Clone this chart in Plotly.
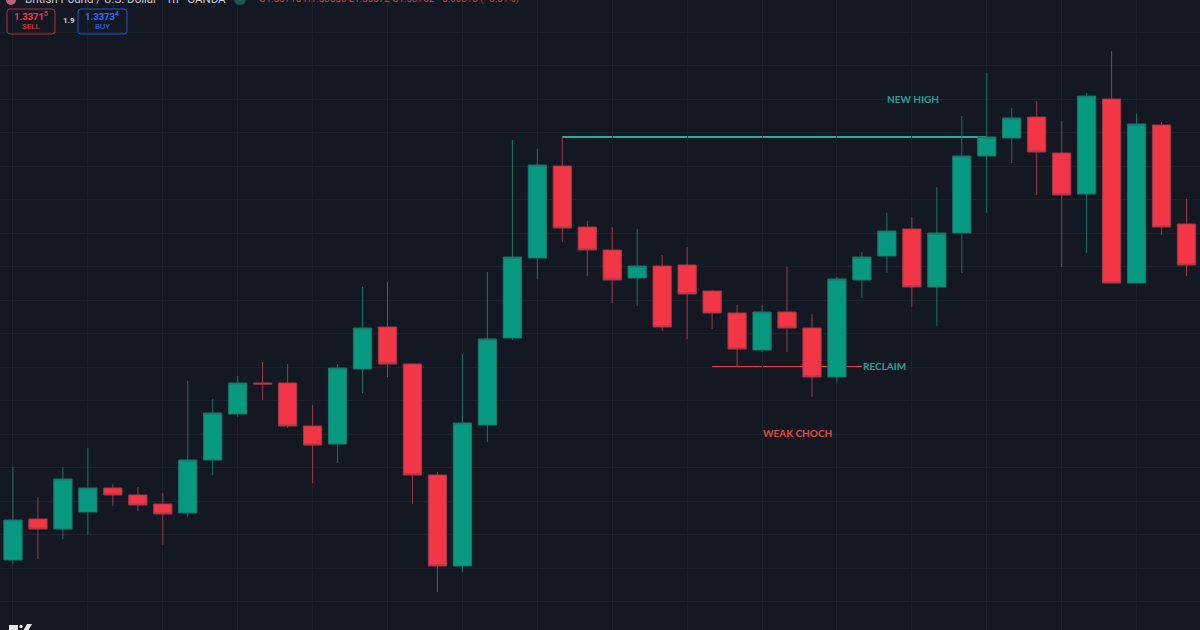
import plotly.graph_objects as go

# candle values, oldest first
highs = [1.33533, 1.33503, 1.33533, 1.33552, 1.33516, 1.33513, 1.33507, 1.33619, 1.33601, 1.33624, 1.33638, 1.33636,
         1.33595, 1.33636, 1.33713, 1.33718, 1.33636, 1.33528, 1.33646, 1.33728, 1.33860, 1.33851, 1.33863, 1.33779,
         1.33773, 1.33771, 1.33745, 1.33753, 1.33710, 1.33695, 1.33695, 1.33733, 1.33686, 1.33723, 1.33748, 1.33787,
         1.33783, 1.33813, 1.33884, 1.33927, 1.33892, 1.33899, 1.33879, 1.33907, 1.33949, 1.33886, 1.33878, 1.33801]
lows = [1.33436, 1.33441, 1.33461, 1.33465, 1.33494, 1.33489, 1.33455, 1.33483, 1.33525, 1.33583, 1.33600, 1.33572,
        1.33517, 1.33537, 1.33607, 1.33623, 1.33496, 1.33408, 1.33428, 1.33558, 1.33660, 1.33721, 1.33758, 1.33724,
        1.33697, 1.33694, 1.33669, 1.33661, 1.33671, 1.33633, 1.33648, 1.33648, 1.33603, 1.33618, 1.33702, 1.33727,
        1.33693, 1.33674, 1.33727, 1.33787, 1.33837, 1.33805, 1.33733, 1.33747, 1.33717, 1.33717, 1.33765, 1.33724]
opens = [1.33440, 1.33481, 1.33471, 1.33488, 1.33512, 1.33505, 1.33496, 1.33487, 1.33540, 1.33586, 1.33617, 1.33617,
         1.33574, 1.33556, 1.33631, 1.33673, 1.33636, 1.33525, 1.33434, 1.33575, 1.33662, 1.33742, 1.33834, 1.33773,
         1.33750, 1.33722, 1.33734, 1.33735, 1.33709, 1.33687, 1.33650, 1.33688, 1.33672, 1.33623, 1.33720, 1.33744,
         1.33771, 1.33713, 1.33767, 1.33844, 1.33862, 1.33883, 1.33847, 1.33806, 1.33901, 1.33717, 1.33875, 1.33776]
closes = [1.33480, 1.33471, 1.33521, 1.33512, 1.33505, 1.33495, 1.33486, 1.33540, 1.33587, 1.33617, 1.33616, 1.33574,
          1.33555, 1.33632, 1.33672, 1.33636, 1.33525, 1.33434, 1.33577, 1.33661, 1.33743, 1.33835, 1.33772, 1.33750,
          1.33720, 1.33734, 1.33673, 1.33706, 1.33687, 1.33651, 1.33688, 1.33672, 1.33623, 1.33721, 1.33743, 1.33769,
          1.33713, 1.33767, 1.33844, 1.33863, 1.33882, 1.33848, 1.33805, 1.33904, 1.33717, 1.33876, 1.33773, 1.33735]
candle_idx = list(range(len(opens)))

# marked levels: [start candle, end candle, price]
high_line = [22, 39, 1.33863]
reclaim_line = [28, 34, 1.33633]

label_text = ["NEW HIGH", "RECLAIM", "WEAK CHOCH"]
label_x = [36.05, 34.0, 31.4]
label_y = [1.33901, 1.33634, 1.33567]

symbol_title = "British Pound / U.S. Dollar · 1h · OANDA"
ohlc_title = "O1.33718 H1.33835 L1.33672 C1.33702 −0.00016 (−0.01%)"
sell_price = "1.3371<sup>5</sup>"
buy_price = "1.3373<sup>4</sup>"
spread = "1.9"

BG = "#141822"
GRID = "#1d222c"
GREEN = "#089981"
RED = "#f23645"
TEAL_TEXT = "#2aa093"
W, H = 1200, 630


def px(x):
    return x / W


def py(y):
    return 1 - y / H


def round_box(x0, y0, x1, y1, r=3):
    return (f"M {px(x0 + r)} {py(y0)} L {px(x1 - r)} {py(y0)} Q {px(x1)} {py(y0)} {px(x1)} {py(y0 + r)} "
            f"L {px(x1)} {py(y1 - r)} Q {px(x1)} {py(y1)} {px(x1 - r)} {py(y1)} L {px(x0 + r)} {py(y1)} "
            f"Q {px(x0)} {py(y1)} {px(x0)} {py(y1 - r)} L {px(x0)} {py(y0 + r)} Q {px(x0)} {py(y0)} {px(x0 + r)} {py(y0)} Z")


def poly(points):
    return "M " + " L ".join(f"{px(x)} {py(y)}" for x, y in points) + " Z"


def header_text(x, y, text, color, size, anchor="center", bold=False):
    return dict(xref="paper", yref="paper", x=px(x), y=py(y), text=f"<b>{text}</b>" if bold else text,
                showarrow=False, xanchor=anchor, yanchor="middle",
                font=dict(family="Roboto", size=size, color=color))


def dot(x, y, r, color):
    return dict(type="circle", xref="paper", yref="paper", x0=px(x - r), x1=px(x + r), y0=py(y + r), y1=py(y - r),
                fillcolor=color, line=dict(width=0))


fig = go.Figure(go.Candlestick(
    x=candle_idx, open=opens, high=highs, low=lows, close=closes,
    increasing=dict(fillcolor=GREEN, line=dict(color="#1b7468", width=1)),
    decreasing=dict(fillcolor=RED, line=dict(color="#a13a48", width=1)),
    whiskerwidth=0, showlegend=False,
))

shapes = [
    dict(type="line", layer="below", x0=high_line[0], x1=high_line[1], y0=high_line[2], y1=high_line[2],
         line=dict(color="#2fa89c", width=2)),
    dict(type="line", layer="below", x0=reclaim_line[0], x1=reclaim_line[1], y0=reclaim_line[2], y1=reclaim_line[2],
         line=dict(color=RED, width=2)),
    dict(type="path", xref="paper", yref="paper", path=round_box(7, 9, 55, 34), line=dict(color="#a8303e", width=1)),
    dict(type="path", xref="paper", yref="paper", path=round_box(78, 9, 127, 34), line=dict(color="#2452c8", width=1)),
    # flag and market-status dot in the header, cut by the top edge
    dot(11, 0, 5, "#b9657a"),
    dot(240, -1, 6, "#1c5a4e"),
    # logo in the bottom corner, only its top shows
    dict(type="path", xref="paper", yref="paper", path=poly([(9, 625), (18, 625), (18, 631), (9, 631)]),
         fillcolor="#e8e8e8", line=dict(width=0)),
    dot(21, 626.5, 1.7, "#e8e8e8"),
    dict(type="path", xref="paper", yref="paper", path=poly([(27, 624), (32, 624), (28, 631), (23, 631)]),
         fillcolor="#e8e8e8", line=dict(width=0)),
]

annotations = [
    dict(x=label_x[0], y=label_y[0], text=f"<b>{label_text[0]}</b>", showarrow=False,
         font=dict(family="Lato", size=10, color=TEAL_TEXT)),
    dict(x=label_x[1], y=label_y[1], text=f"<b>{label_text[1]}</b>", showarrow=False, xanchor="left", xshift=-1,
         font=dict(family="Lato", size=10, color=TEAL_TEXT)),
    dict(x=label_x[2], y=label_y[2], text=f"<b>{label_text[2]}</b>", showarrow=False,
         font=dict(family="Lato", size=10, color="#e5483f")),
    header_text(23, -1, symbol_title, "#c8ccd6", 11.5, anchor="left"),
    header_text(257, -1, ohlc_title, "#c2404f", 9.8, anchor="left"),
    header_text(31, 16, sell_price, RED, 9.5, bold=True),
    header_text(31, 27, "SELL", RED, 8),
    header_text(69, 21, spread, "#d1d4dc", 8, bold=True),
    header_text(102, 16, buy_price, "#2f6bff", 9.5, bold=True),
    header_text(102, 27, "BUY", "#2f6bff", 8),
]

fig.update_layout(
    width=W, height=H,
    margin=dict(l=0, r=0, t=0, b=0),
    paper_bgcolor=BG, plot_bgcolor=BG,
    boxgap=0, boxgroupgap=0.27,
    shapes=shapes, annotations=annotations,
    xaxis=dict(range=[-0.52, 47.54], tick0=0, dtick=3, showticklabels=False, showgrid=True, gridcolor=GRID,
               gridwidth=1, zeroline=False, rangeslider=dict(visible=False), showline=False, ticks=""),
    yaxis=dict(range=[1.3337, 1.34], tick0=1.33633, dtick=0.000335, showticklabels=False, showgrid=True,
               gridcolor=GRID, gridwidth=1, zeroline=False, showline=False, ticks=""),
)

fig.write_html("out.html", config={"displayModeBar": False},
               post_script="document.body.style.margin='0';document.body.style.overflow='hidden';")
